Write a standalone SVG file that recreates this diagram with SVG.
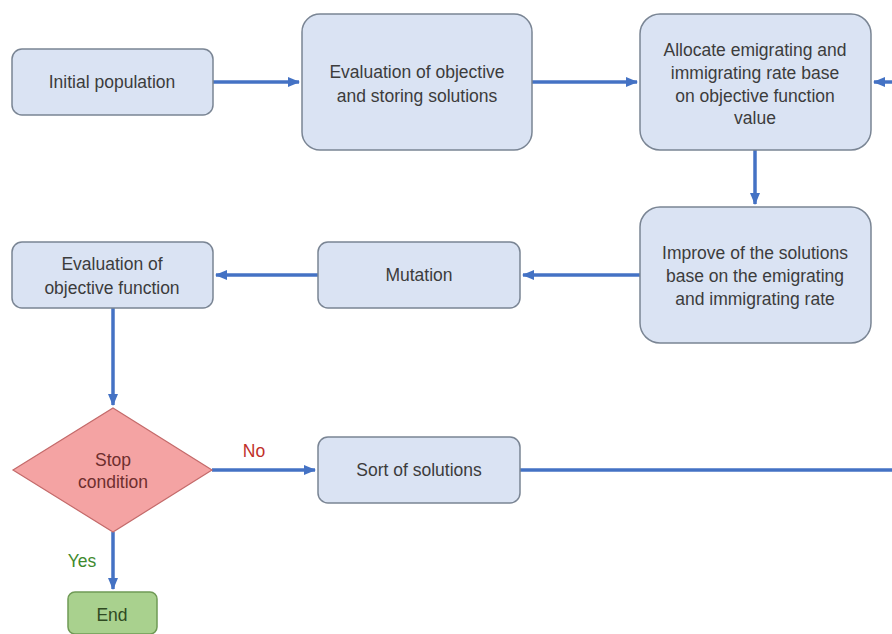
<svg xmlns="http://www.w3.org/2000/svg" width="892" height="634" viewBox="0 0 892 634">
<defs>
<marker id="ah" markerWidth="12" markerHeight="10" refX="11" refY="5" orient="auto" markerUnits="userSpaceOnUse">
<path d="M0,0 L12,5 L0,10 Z" fill="#4472c4"/>
</marker>
<style>
.box{fill:#dae3f3;stroke:#7a8594;stroke-width:1.5}
.t{font-family:"Liberation Sans",Arial,sans-serif;font-size:17.5px;fill:#3c3c3c;text-anchor:middle}
.c{fill:none;stroke:#4472c4;stroke-width:3.5}
</style>
</defs>
<rect width="892" height="634" fill="#ffffff"/>
<g id="connectors">
<line class="c" x1="213" y1="82" x2="299" y2="82" marker-end="url(#ah)"/>
<line class="c" x1="532" y1="82" x2="637" y2="82" marker-end="url(#ah)"/>
<line class="c" x1="892" y1="82" x2="874" y2="82" marker-end="url(#ah)"/>
<line class="c" x1="755" y1="150" x2="755" y2="204" marker-end="url(#ah)"/>
<line class="c" x1="640" y1="275" x2="523" y2="275" marker-end="url(#ah)"/>
<line class="c" x1="318" y1="275" x2="216" y2="275" marker-end="url(#ah)"/>
<line class="c" x1="113" y1="308" x2="113" y2="405" marker-end="url(#ah)"/>
<line class="c" x1="212" y1="470" x2="315" y2="470" marker-end="url(#ah)"/>
<line class="c" x1="520" y1="470" x2="892" y2="470"/>
<line class="c" x1="113" y1="532" x2="113" y2="589" marker-end="url(#ah)"/>
<text x="254" y="457" font-family="'Liberation Sans',Arial,sans-serif" font-size="17.5" fill="#c0302a" text-anchor="middle">No</text>
<text x="82" y="567" font-family="'Liberation Sans',Arial,sans-serif" font-size="17.5" fill="#3f8a2e" text-anchor="middle">Yes</text>
</g>
<g id="initial">
<rect class="box" x="12" y="49" width="201" height="66" rx="10"/>
<text class="t" x="112" y="88">Initial population</text>
</g>
<g id="eval1">
<rect class="box" x="302" y="14" width="230" height="136" rx="18"/>
<text class="t" x="417" y="78">Evaluation of objective</text>
<text class="t" x="417" y="102">and storing solutions</text>
</g>
<g id="allocate">
<rect class="box" x="640" y="14" width="231" height="136" rx="20"/>
<text class="t" x="755" y="56">Allocate emigrating and</text>
<text class="t" x="755" y="79">immigrating rate base</text>
<text class="t" x="755" y="102">on objective function</text>
<text class="t" x="755" y="124">value</text>
</g>
<g id="improve">
<rect class="box" x="640" y="207" width="231" height="136" rx="20"/>
<text class="t" x="755" y="259">Improve of the solutions</text>
<text class="t" x="755" y="282">base on the emigrating</text>
<text class="t" x="755" y="305">and immigrating rate</text>
</g>
<g id="mutation">
<rect class="box" x="318" y="242" width="202" height="66" rx="10"/>
<text class="t" x="419" y="281">Mutation</text>
</g>
<g id="eval2">
<rect class="box" x="12" y="242" width="201" height="66" rx="10"/>
<text class="t" x="112" y="270">Evaluation of</text>
<text class="t" x="112" y="294">objective function</text>
</g>
<g id="stop">
<polygon points="113,408 212,470 113,532 13,470" fill="#f4a3a3" stroke="#c46a6a" stroke-width="1.2"/>
<text class="t" x="113" y="466" style="fill:#6e2e2e">Stop</text>
<text class="t" x="113" y="488" style="fill:#6e2e2e">condition</text>
</g>
<g id="sort">
<rect class="box" x="318" y="437" width="202" height="66" rx="10"/>
<text class="t" x="419" y="476">Sort of solutions</text>
</g>
<g id="end">
<rect x="68" y="592" width="89" height="42" rx="7" fill="#a9d18e" stroke="#6f9a55" stroke-width="1.5"/>
<text class="t" x="112" y="621" style="fill:#2f4a22">End</text>
</g>
</svg>
